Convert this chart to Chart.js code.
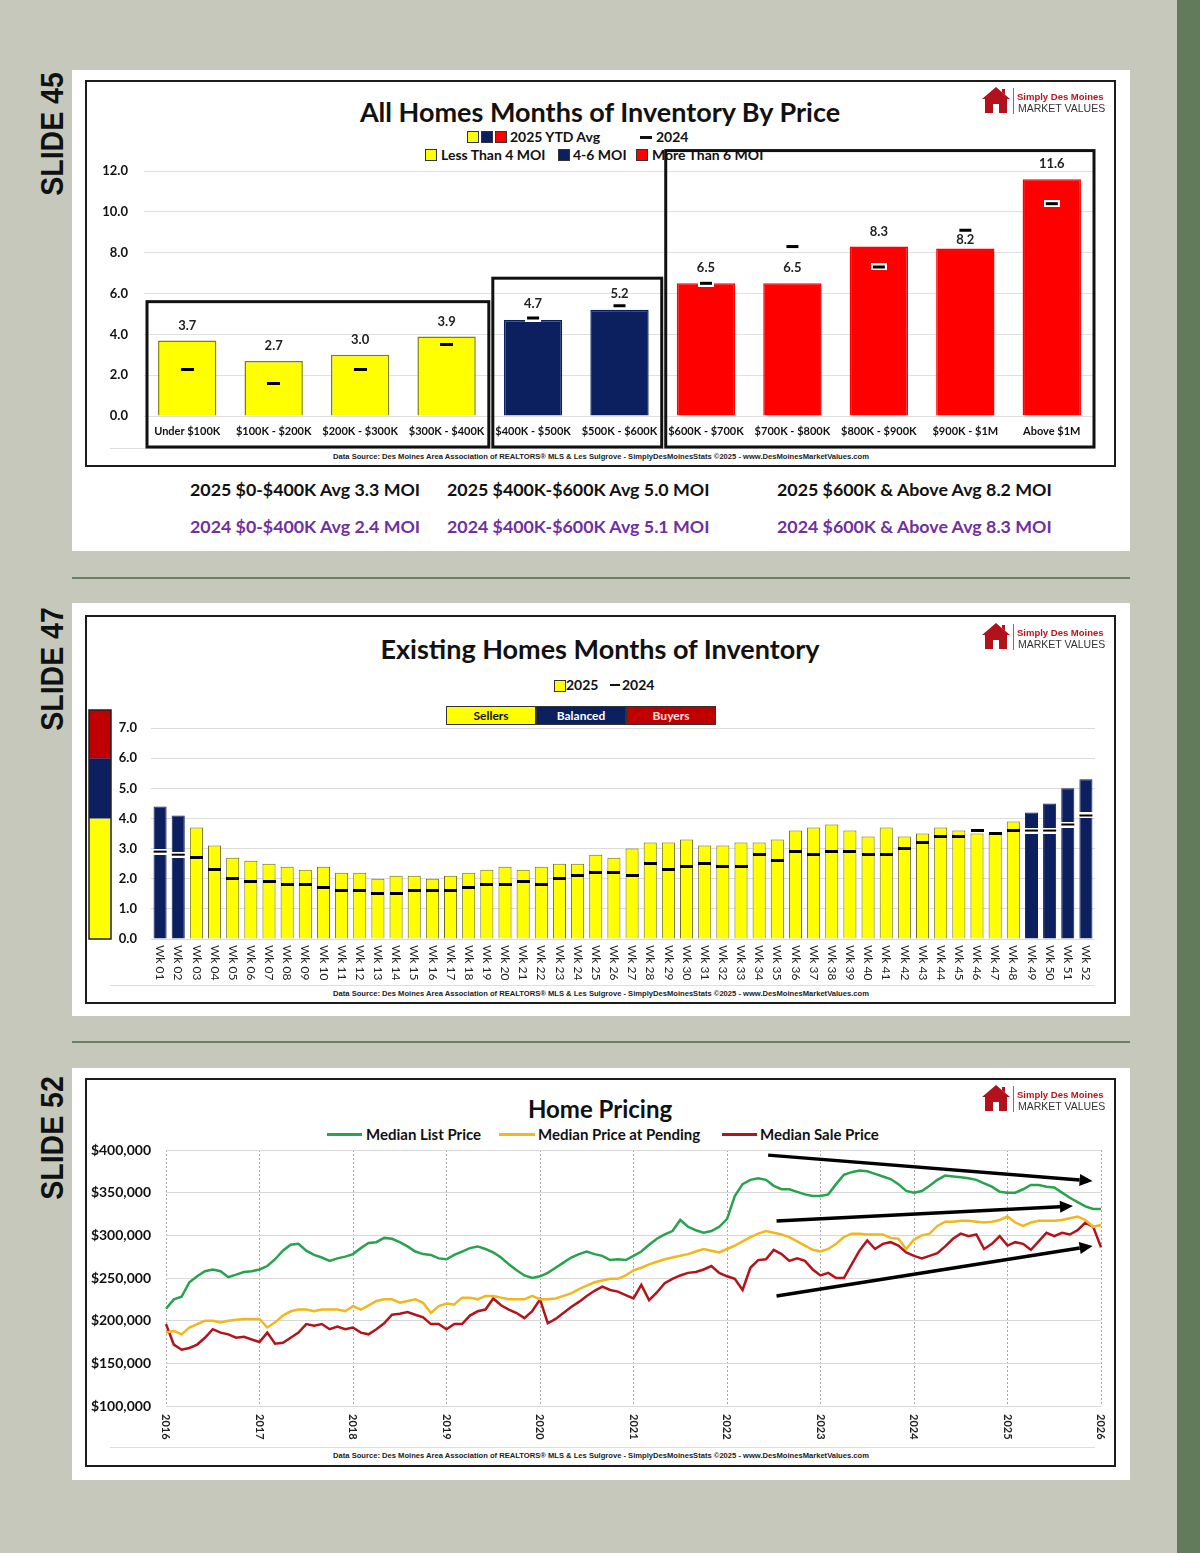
<!DOCTYPE html>
<html>
<head>
<meta charset="utf-8">
<script src="https://cdn.jsdelivr.net/npm/chart.js@4.4.1/dist/chart.umd.min.js"></script>
<style>
  html, body { margin: 0; padding: 0; }
  body { width: 1200px; height: 1553px; position: relative; overflow: hidden; background: #c6c8bb; font-family: Lato, "Open Sans", sans-serif; color: #111; }
  .abs { position: absolute; }
  .stripe { left: 1177px; top: 0; width: 23px; height: 1553px; background: #627b5a; }
  .panel { left: 72px; width: 1058px; background: #fff; }
  .frame { left: 85px; width: 1031px; border: 2px solid #1c1c1c; box-sizing: border-box; pointer-events: none; }
  .sep { left: 72px; width: 1058px; height: 2px; background: #6b8062; }
  .slide { font-family: "Liberation Sans", Arial, sans-serif; font-weight: bold; font-size: 32px; color: #111; white-space: nowrap; transform: translate(-50%, -50%) rotate(-90deg) scaleX(0.89); }
  .title { font-weight: bold; font-size: 27px; line-height: 34px; white-space: nowrap; transform: translateX(-50%); }
  .leg { font-weight: bold; font-size: 14px; line-height: 20px; white-space: nowrap; }
  .sq { width: 10px; height: 10px; border: 1px solid #333; }
  .note { font-weight: bold; font-size: 17.8px; line-height: 22px; white-space: nowrap; }
  .purple { color: #7030a0; }
  .src { font-family: "Liberation Sans", Arial, sans-serif; font-weight: bold; font-size: 7.6px; line-height: 10px; white-space: nowrap; transform: translateX(-50%); color: #222; }
  .srcline { left: 110px; width: 985px; height: 1px; background: #dedede; }
  .logo { width: 140px; height: 30px; }
  .logo svg { position: absolute; left: 0; top: 0; }
  .logo .bar { position: absolute; left: 32px; top: 2px; width: 1px; height: 26px; background: #777; }
  .logo .l1 { position: absolute; left: 36px; top: 5px; font-family: "Liberation Sans", Arial, sans-serif; font-weight: bold; font-size: 9.5px; color: #c0141c; white-space: nowrap; }
  .logo .l2 { position: absolute; left: 37px; top: 16px; font-family: "Liberation Sans", Arial, sans-serif; font-size: 10.5px; color: #333; white-space: nowrap; }
  .zone { top: 706px; width: 90px; height: 19px; box-sizing: border-box; border: 1px solid #333; font-weight: bold; font-size: 12px; line-height: 17px; text-align: center; }
  .swatch { height: 3px; }
</style>
</head>
<body>
<div class="abs stripe"></div>

<!-- slide 45 -->
<div class="abs slide" style="left:52px;top:134px">SLIDE 45</div>
<div class="abs panel" style="top:70px;height:481px"></div>
<div class="abs title" style="left:600px;top:95px">All Homes Months of Inventory By Price</div>
<div class="abs sq" style="left:467px;top:131px;background:#ffff00"></div>
<div class="abs sq" style="left:481px;top:131px;background:#0c1f5f"></div>
<div class="abs sq" style="left:495px;top:131px;background:#ff0000"></div>
<div class="abs leg" style="left:510px;top:127px">2025 YTD Avg</div>
<div class="abs" style="left:640px;top:136px;width:12px;height:2.5px;background:#111"></div>
<div class="abs leg" style="left:656px;top:127px">2024</div>
<div class="abs sq" style="left:425px;top:149px;background:#ffff00"></div>
<div class="abs leg" style="left:441px;top:145px">Less Than 4 MOI</div>
<div class="abs sq" style="left:558px;top:149px;background:#0c1f5f"></div>
<div class="abs leg" style="left:573px;top:145px">4-6 MOI</div>
<div class="abs sq" style="left:636px;top:149px;background:#ff0000"></div>
<div class="abs leg" style="left:652px;top:145px">More Than 6 MOI</div>
<div class="abs srcline" style="top:448px"></div>
<div class="abs src" style="left:601px;top:452px">Data Source: Des Moines Area Association of REALTORS® MLS &amp; Les Sulgrove - SimplyDesMoinesStats ©2025 - www.DesMoinesMarketValues.com</div>
<div class="abs" style="left:85px;top:80px;width:1031px;height:386px"><canvas id="c45" width="1031" height="386"></canvas></div>
<div class="abs frame" style="top:80px;height:387px"></div>
<div class="abs logo" style="left:981px;top:86px">
  <svg width="30" height="28" viewBox="0 0 30 28"><path d="M15 1 L29 13 L26 13 L26 27 L18 27 L18 18 L12 18 L12 27 L4 27 L4 13 L1 13 Z M21 3 L24 3 L24 8.5 L21 6 Z" fill="#b3121c"/></svg>
  <div class="bar"></div><div class="l1">Simply Des Moines</div><div class="l2">MARKET VALUES</div>
</div>
<div class="abs note" style="left:190px;top:478px">2025 $0-$400K Avg 3.3 MOI</div>
<div class="abs note" style="left:447px;top:478px">2025 $400K-$600K Avg 5.0 MOI</div>
<div class="abs note" style="left:777px;top:478px">2025 $600K &amp; Above Avg 8.2 MOI</div>
<div class="abs note purple" style="left:190px;top:515px">2024 $0-$400K Avg 2.4 MOI</div>
<div class="abs note purple" style="left:447px;top:515px">2024 $400K-$600K Avg 5.1 MOI</div>
<div class="abs note purple" style="left:777px;top:515px">2024 $600K &amp; Above Avg 8.3 MOI</div>

<div class="abs sep" style="top:577px"></div>

<!-- slide 47 -->
<div class="abs slide" style="left:52px;top:669px">SLIDE 47</div>
<div class="abs panel" style="top:603px;height:413px"></div>
<div class="abs title" style="left:600px;top:632px">Existing Homes Months of Inventory</div>
<div class="abs sq" style="left:554px;top:680px;background:#ffff00"></div>
<div class="abs leg" style="left:566px;top:675px">2025</div>
<div class="abs" style="left:610px;top:684px;width:10px;height:2px;background:#111"></div>
<div class="abs leg" style="left:622px;top:675px">2024</div>
<div class="abs zone" style="left:446px;background:#ffff00;color:#111">Sellers</div>
<div class="abs zone" style="left:536px;background:#0c1f5f;color:#fff">Balanced</div>
<div class="abs zone" style="left:626px;background:#c00000;color:#ffe0e0">Buyers</div>
<div class="abs srcline" style="top:985px"></div>
<div class="abs src" style="left:601px;top:989px">Data Source: Des Moines Area Association of REALTORS® MLS &amp; Les Sulgrove - SimplyDesMoinesStats ©2025 - www.DesMoinesMarketValues.com</div>
<div class="abs" style="left:85px;top:615px;width:1031px;height:388px"><canvas id="c47" width="1031" height="388"></canvas></div>
<div class="abs frame" style="top:615px;height:389px"></div>
<div class="abs logo" style="left:981px;top:622px">
  <svg width="30" height="28" viewBox="0 0 30 28"><path d="M15 1 L29 13 L26 13 L26 27 L18 27 L18 18 L12 18 L12 27 L4 27 L4 13 L1 13 Z M21 3 L24 3 L24 8.5 L21 6 Z" fill="#b3121c"/></svg>
  <div class="bar"></div><div class="l1">Simply Des Moines</div><div class="l2">MARKET VALUES</div>
</div>

<div class="abs sep" style="top:1041px"></div>

<!-- slide 52 -->
<div class="abs slide" style="left:52px;top:1138px">SLIDE 52</div>
<div class="abs panel" style="top:1068px;height:412px"></div>
<div class="abs title" style="left:600px;top:1092px;font-size:24px">Home Pricing</div>
<div class="abs swatch" style="left:327px;top:1133px;width:35px;background:#27a34d"></div>
<div class="abs leg" style="left:366px;top:1124px;font-size:15px">Median List Price</div>
<div class="abs swatch" style="left:499px;top:1133px;width:36px;background:#f2b71d"></div>
<div class="abs leg" style="left:538px;top:1124px;font-size:15px">Median Price at Pending</div>
<div class="abs swatch" style="left:722px;top:1133px;width:35px;background:#b3141b"></div>
<div class="abs leg" style="left:760px;top:1124px;font-size:15px">Median Sale Price</div>
<div class="abs srcline" style="top:1447px"></div>
<div class="abs src" style="left:601px;top:1451px">Data Source: Des Moines Area Association of REALTORS® MLS &amp; Les Sulgrove - SimplyDesMoinesStats ©2025 - www.DesMoinesMarketValues.com</div>
<div class="abs" style="left:85px;top:1078px;width:1031px;height:388px"><canvas id="c52" width="1031" height="388"></canvas></div>
<div class="abs frame" style="top:1078px;height:389px"></div>
<div class="abs logo" style="left:981px;top:1084px">
  <svg width="30" height="28" viewBox="0 0 30 28"><path d="M15 1 L29 13 L26 13 L26 27 L18 27 L18 18 L12 18 L12 27 L4 27 L4 13 L1 13 Z M21 3 L24 3 L24 8.5 L21 6 Z" fill="#b3121c"/></svg>
  <div class="bar"></div><div class="l1">Simply Des Moines</div><div class="l2">MARKET VALUES</div>
</div>

<script>
(function () {
  'use strict'

  // Slide 45 - months of inventory by price band
  var priceLabels = ['Under $100K', '$100K - $200K', '$200K - $300K', '$300K - $400K', '$400K - $500K', '$500K - $600K',
    '$600K - $700K', '$700K - $800K', '$800K - $900K', '$900K - $1M', 'Above $1M']
  var moi2025 = [3.7, 2.7, 3.0, 3.9, 4.7, 5.2, 6.5, 6.5, 8.3, 8.2, 11.6]
  var moi2024 = [2.3, 1.6, 2.3, 3.5, 4.8, 5.4, 6.5, 8.3, 7.3, 9.1, 10.4]
  // outlined groups: first band, last band, top of the box (MOI)
  var groupBoxes = [[0, 3, 5.6], [4, 5, 6.75], [6, 10, 13]]

  // Slide 47 - weekly months of inventory
  var weekMoi2025 = [4.4, 4.1, 3.7, 3.1, 2.7, 2.6, 2.5, 2.4, 2.3, 2.4, 2.2, 2.2, 2.0, 2.1, 2.1, 2.0,
    2.1, 2.2, 2.3, 2.4, 2.3, 2.4, 2.5, 2.5, 2.8, 2.7, 3.0, 3.2, 3.2, 3.3, 3.1, 3.1, 3.2, 3.2, 3.3,
    3.6, 3.7, 3.8, 3.6, 3.4, 3.7, 3.4, 3.5, 3.7, 3.6, 3.5, 3.5, 3.9, 4.2, 4.5, 5.0, 5.3]
  var weekMoi2024 = [2.9, 2.8, 2.7, 2.3, 2.0, 1.9, 1.9, 1.8, 1.8, 1.7, 1.6, 1.6, 1.5, 1.5, 1.6, 1.6,
    1.6, 1.7, 1.8, 1.8, 1.9, 1.8, 2.0, 2.1, 2.2, 2.2, 2.1, 2.5, 2.3, 2.4, 2.5, 2.4, 2.4, 2.8, 2.6,
    2.9, 2.8, 2.9, 2.9, 2.8, 2.8, 3.0, 3.2, 3.4, 3.4, 3.6, 3.5, 3.6, 3.6, 3.6, 3.8, 4.1]
  var weekTicks = [0, 1, 2, 3, 4, 5, 6, 7]
  var moiZones = [[0, 4, '#ffff00'], [4, 6, '#0c1f5f'], [6, 7.6, '#c00000']]

  // Slide 52 - monthly median prices, $K, Jan 2016 .. Jan 2026
  var listPriceK = [
    214, 225, 228, 245, 252, 258, 260, 258, 251, 254, 257, 258,
    260, 264, 272, 282, 289, 290, 282, 277, 274, 270, 273, 275,
    278, 285, 291, 292, 297, 296, 292, 287, 281, 278, 277, 273,
    272, 277, 281, 285, 287, 284, 280, 274, 266, 259, 253, 250,
    252, 256, 262, 268, 274, 278, 281, 278, 276, 271, 272, 271,
    276, 281, 289, 296, 301, 305, 318, 310, 306, 303, 305, 310,
    319, 346, 360, 365, 367, 365, 358, 354, 354, 351, 348, 346,
    346, 348, 360, 371, 374, 376, 375, 372, 369, 366, 360, 352,
    350, 352, 358, 365, 370, 369, 368, 367, 365, 361, 357, 351,
    350, 350, 354, 359, 359, 357, 356, 350, 344, 339, 334, 331,
    331]
  var pendingPriceK = [
    186, 188, 184, 192, 196, 200, 200, 198, 200, 201, 202, 202,
    202, 192, 198, 206, 211, 213, 213, 211, 213, 213, 213, 211,
    217, 213, 218, 223, 225, 225, 221, 223, 225, 221, 209, 217,
    220, 219, 227, 227, 225, 229, 229, 227, 225, 225, 225, 229,
    225, 225, 226, 229, 232, 237, 241, 245, 247, 249, 249, 253,
    259, 262, 266, 269, 272, 274, 276, 278, 281, 284, 282, 280,
    284, 288, 293, 298, 302, 305, 303, 301, 298, 293, 288, 283,
    281, 284, 290, 298, 302, 302, 301, 301, 301, 297, 296, 284,
    295, 300, 302, 311, 316, 316, 317, 317, 316, 315, 316, 318,
    322, 315, 311, 315, 317, 317, 317, 318, 320, 322, 318, 310,
    312]
  var salePriceK = [
    196, 172, 166, 168, 172, 180, 190, 186, 184, 180, 181, 178,
    175, 186, 173, 174, 180, 186, 196, 194, 196, 190, 193, 190,
    192, 186, 184, 190, 197, 207, 208, 210, 207, 204, 196, 196,
    190, 196, 196, 206, 211, 213, 226, 218, 213, 209, 203, 211,
    225, 197, 202, 209, 216, 222, 229, 235, 240, 236, 234, 230,
    226, 242, 224, 233, 244, 249, 253, 256, 257, 260, 264, 256,
    252, 249, 236, 262, 271, 272, 283, 278, 270, 273, 270, 260,
    253, 256, 250, 250, 266, 282, 294, 284, 290, 292, 288, 280,
    276, 273, 276, 279, 287, 296, 302, 299, 301, 284, 290, 299,
    288, 292, 290, 283, 293, 303, 299, 303, 301, 306, 315, 310,
    286]
  // trend arrows: [from year, from $K, to year, to $K]
  var trendArrows = [[2022.44, 394, 2025.91, 363.7], [2022.53, 316.8, 2025.70, 334.4], [2022.53, 228.9, 2025.91, 287.5]]

  var colors = {
    yellow: '#ffff00', yellowEdge: '#80800f', navy: '#0c1f5f', red: '#ff0000',
    green: '#27a34d', gold: '#f2b71d', wine: '#b3141b', grid: '#e0e0e0', ink: '#111'
  }

  var weeks = []
  for (var w = 1; w <= weekMoi2025.length; w++) weeks.push('Wk ' + (w < 10 ? '0' + w : w))
  var months = []
  for (var m = 0; m < listPriceK.length; m++) {
    var mm = (m % 12) + 1
    months.push((2016 + Math.floor(m / 12)) + '-' + (mm < 10 ? '0' + mm : mm))
  }

  function tierColor (v) {
    return v < 4 ? colors.yellow : (v <= 6 ? colors.navy : colors.red)
  }

  function makeDash (w, h, outlined) {
    var c = document.createElement('canvas')
    var pad = outlined ? 2 : 0
    c.width = w + pad * 2
    c.height = h + pad * 2
    var g = c.getContext('2d')
    if (outlined) {
      g.fillStyle = '#fff'
      g.fillRect(0, 0, c.width, c.height)
    }
    g.fillStyle = '#000'
    g.fillRect(pad, pad, w, h)
    return c
  }
  var dash45 = makeDash(13, 3, false)
  var dash45o = makeDash(12, 3, true)
  var dash47 = makeDash(13, 3, false)
  var dash47o = makeDash(13, 2, true)

  var boldFont = function (size) { return { family: 'Lato', weight: 'bold', size: size } }

  // value labels above slide 45 bars
  var barValues = {
    id: 'barValues',
    afterDatasetsDraw: function (chart) {
      var ctx = chart.ctx
      var bars = chart.getDatasetMeta(0).data
      var pts = chart.getDatasetMeta(1).data
      ctx.save()
      ctx.font = 'bold 13px Lato'
      ctx.fillStyle = '#222'
      ctx.textAlign = 'center'
      ctx.textBaseline = 'middle'
      bars.forEach(function (b, i) {
        var gap = b.y - pts[i].y
        var off = 15
        if (gap > 10 && gap < 24) off = 9
        else if (gap > 0 && gap <= 10) off = 16
        ctx.fillText(moi2025[i].toFixed(1), b.x, b.y - off)
      })
      ctx.restore()
    }
  }

  var groupFrames = {
    id: 'groupFrames',
    afterDraw: function (chart) {
      var x = chart.scales.x
      var y = chart.scales.y
      var ctx = chart.ctx
      var half = (x.getPixelForValue(1) - x.getPixelForValue(0)) / 2
      ctx.save()
      ctx.strokeStyle = '#111'
      ctx.lineWidth = 3
      groupBoxes.forEach(function (g) {
        var l = x.getPixelForValue(g[0]) - half + 3
        var r = x.getPixelForValue(g[1]) + half - 1
        var t = y.getPixelForValue(g[2])
        var b = chart.chartArea.bottom + 31
        ctx.strokeRect(l, t, r - l, b - t)
      })
      ctx.restore()
    }
  }

  var zoneBar = {
    id: 'zoneBar',
    afterDraw: function (chart) {
      var y = chart.scales.y
      var ctx = chart.ctx
      ctx.save()
      moiZones.forEach(function (z) {
        var t = y.getPixelForValue(z[1])
        var b = y.getPixelForValue(z[0])
        ctx.fillStyle = z[2]
        ctx.fillRect(4, t, 22, b - t)
      })
      ctx.strokeStyle = '#222'
      ctx.lineWidth = 1.5
      ctx.strokeRect(4, y.getPixelForValue(7.6), 22, y.getPixelForValue(0) - y.getPixelForValue(7.6))
      ctx.restore()
    }
  }

  // x labels written downwards (top to bottom)
  function downLabels (labelFor, font, gap) {
    return {
      id: 'downLabels',
      afterDraw: function (chart) {
        var x = chart.scales.x
        var ctx = chart.ctx
        ctx.save()
        ctx.font = font
        ctx.fillStyle = '#222'
        ctx.textAlign = 'left'
        ctx.textBaseline = 'middle'
        x.ticks.forEach(function (t, i) {
          var s = labelFor(i)
          if (!s) return
          ctx.save()
          ctx.translate(x.getPixelForTick(i), chart.chartArea.bottom + gap)
          ctx.rotate(Math.PI / 2)
          ctx.fillText(s, 0, 0)
          ctx.restore()
        })
        ctx.restore()
      }
    }
  }

  var arrows = {
    id: 'arrows',
    afterDatasetsDraw: function (chart) {
      var x = chart.scales.x
      var y = chart.scales.y
      var ctx = chart.ctx
      ctx.save()
      ctx.strokeStyle = '#000'
      ctx.fillStyle = '#000'
      ctx.lineWidth = 3.5
      trendArrows.forEach(function (a) {
        var x1 = x.getPixelForValue((a[0] - 2016) * 12)
        var y1 = y.getPixelForValue(a[1])
        var x2 = x.getPixelForValue((a[2] - 2016) * 12)
        var y2 = y.getPixelForValue(a[3])
        var ang = Math.atan2(y2 - y1, x2 - x1)
        var hx = x2 - 13 * Math.cos(ang)
        var hy = y2 - 13 * Math.sin(ang)
        ctx.beginPath()
        ctx.moveTo(x1, y1)
        ctx.lineTo(hx, hy)
        ctx.stroke()
        ctx.beginPath()
        ctx.moveTo(x2, y2)
        ctx.lineTo(hx + 6 * Math.sin(ang), hy - 6 * Math.cos(ang))
        ctx.lineTo(hx - 6 * Math.sin(ang), hy + 6 * Math.cos(ang))
        ctx.closePath()
        ctx.fill()
      })
      ctx.restore()
    }
  }

  // eslint-disable-next-line no-unused-vars
  var chart45 = new Chart(document.getElementById('c45'), {
    type: 'bar',
    data: {
      labels: priceLabels,
      datasets: [{
        data: moi2025,
        backgroundColor: moi2025.map(tierColor),
        borderColor: moi2025.map(function (v) { return v < 4 ? colors.yellowEdge : tierColor(v) }),
        borderWidth: 1.5,
        barPercentage: 0.675,
        categoryPercentage: 1,
        order: 1
      }, {
        type: 'line',
        data: moi2024,
        showLine: false,
        pointRadius: 6,
        pointStyle: function (c) { return moi2025[c.dataIndex] < 4 ? dash45 : dash45o },
        order: 0
      }]
    },
    options: {
      responsive: false,
      animation: false,
      layout: { padding: { left: 0, right: 21, top: 91, bottom: 20 } },
      plugins: { legend: { display: false }, tooltip: { enabled: false } },
      scales: {
        x: {
          grid: { display: false, drawTicks: false },
          border: { display: false },
          ticks: { autoSkip: false, maxRotation: 0, minRotation: 0, padding: 9, color: colors.ink, font: boldFont(11) },
          afterFit: function (s) { s.height = 30 }
        },
        y: {
          min: 0,
          max: 12,
          ticks: { stepSize: 2, padding: 16, color: colors.ink, font: boldFont(13), callback: function (v) { return v.toFixed(1) } },
          grid: { color: colors.grid, drawTicks: false },
          border: { display: false },
          afterFit: function (s) { s.width = 59 }
        }
      }
    },
    plugins: [barValues, groupFrames]
  })

  // eslint-disable-next-line no-unused-vars
  var chart47 = new Chart(document.getElementById('c47'), {
    type: 'bar',
    data: {
      labels: weeks,
      datasets: [{
        data: weekMoi2025,
        backgroundColor: weekMoi2025.map(tierColor),
        borderColor: weekMoi2025.map(function (v) { return v < 4 ? '#6e6e14' : colors.navy }),
        borderWidth: 1,
        barPercentage: 0.72,
        categoryPercentage: 1,
        order: 1
      }, {
        type: 'line',
        data: weekMoi2024,
        showLine: false,
        pointRadius: 6,
        pointStyle: function (c) { return weekMoi2025[c.dataIndex] < 4 ? dash47 : dash47o },
        order: 0
      }]
    },
    options: {
      responsive: false,
      animation: false,
      layout: { padding: { left: 0, right: 21, top: 95, bottom: 24 } },
      plugins: { legend: { display: false }, tooltip: { enabled: false } },
      scales: {
        x: {
          grid: { display: false, drawTicks: false },
          border: { display: false },
          ticks: { display: false },
          afterFit: function (s) { s.height = 40 }
        },
        y: {
          min: 0,
          max: 7.6,
          afterBuildTicks: function (s) { s.ticks = weekTicks.map(function (v) { return { value: v } }) },
          ticks: { padding: 14, color: colors.ink, font: boldFont(13), callback: function (v) { return v.toFixed(1) } },
          grid: { color: '#dcdcdc', drawTicks: false },
          border: { display: false },
          afterFit: function (s) { s.width = 66 }
        }
      }
    },
    plugins: [zoneBar, downLabels(function (i) { return weeks[i] }, '12px Lato', 6)]
  })

  // eslint-disable-next-line no-unused-vars
  var chart52 = new Chart(document.getElementById('c52'), {
    type: 'line',
    data: {
      labels: months,
      datasets: [
        { label: 'Median List Price', data: listPriceK, borderColor: colors.green, borderWidth: 2.5, pointRadius: 0, tension: 0 },
        { label: 'Median Price at Pending', data: pendingPriceK, borderColor: colors.gold, borderWidth: 2.5, pointRadius: 0, tension: 0 },
        { label: 'Median Sale Price', data: salePriceK, borderColor: colors.wine, borderWidth: 2.5, pointRadius: 0, tension: 0 }
      ]
    },
    options: {
      responsive: false,
      animation: false,
      layout: { padding: { left: 0, right: 15, top: 72, bottom: 20 } },
      plugins: { legend: { display: false }, tooltip: { enabled: false } },
      scales: {
        x: {
          offset: false,
          grid: {
            drawTicks: false,
            color: function (c) { return c.index % 12 === 0 ? '#a8a8a8' : 'rgba(0,0,0,0)' }
          },
          border: { display: false, dash: [2, 2] },
          ticks: { display: false },
          afterFit: function (s) { s.height = 40 }
        },
        y: {
          min: 100,
          max: 400,
          ticks: {
            stepSize: 50,
            padding: 15,
            color: colors.ink,
            font: boldFont(14),
            callback: function (v) { return '$' + (v * 1000).toLocaleString('en-US') }
          },
          grid: { color: '#d8d8d8', drawTicks: false },
          border: { display: false },
          afterFit: function (s) { s.width = 81 }
        }
      }
    },
    plugins: [arrows, downLabels(function (i) { return i % 12 === 0 ? months[i].slice(0, 4) : '' }, 'bold 11px Lato', 8)]
  })
}())
</script>
</body>
</html>
